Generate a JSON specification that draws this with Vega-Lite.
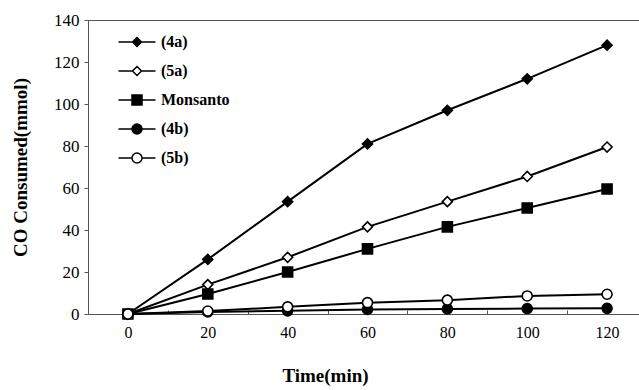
{
  "$schema": "https://vega.github.io/schema/vega-lite/v6.json",
  "width": 559,
  "height": 294,
  "autosize": {"type": "none"},
  "padding": {"left": 88, "top": 20, "right": 0, "bottom": 76},
  "background": "white",
  "config": {
    "view": {"stroke": "#555", "strokeWidth": 1},
    "font": "Liberation Serif"
  },
  "data": {
    "values": [
      {"series": "(4a)", "time": 0, "co": 0},
      {"series": "(4a)", "time": 20, "co": 26},
      {"series": "(4a)", "time": 40, "co": 53.5},
      {"series": "(4a)", "time": 60, "co": 81},
      {"series": "(4a)", "time": 80, "co": 97},
      {"series": "(4a)", "time": 100, "co": 112},
      {"series": "(4a)", "time": 120, "co": 128},
      {"series": "(5a)", "time": 0, "co": 0},
      {"series": "(5a)", "time": 20, "co": 14},
      {"series": "(5a)", "time": 40, "co": 27},
      {"series": "(5a)", "time": 60, "co": 41.5},
      {"series": "(5a)", "time": 80, "co": 53.5},
      {"series": "(5a)", "time": 100, "co": 65.5},
      {"series": "(5a)", "time": 120, "co": 79.5},
      {"series": "Monsanto", "time": 0, "co": 0},
      {"series": "Monsanto", "time": 20, "co": 9.5},
      {"series": "Monsanto", "time": 40, "co": 20},
      {"series": "Monsanto", "time": 60, "co": 31},
      {"series": "Monsanto", "time": 80, "co": 41.5},
      {"series": "Monsanto", "time": 100, "co": 50.5},
      {"series": "Monsanto", "time": 120, "co": 59.5},
      {"series": "(4b)", "time": 0, "co": 0},
      {"series": "(4b)", "time": 20, "co": 1},
      {"series": "(4b)", "time": 40, "co": 1.5},
      {"series": "(4b)", "time": 60, "co": 2.2},
      {"series": "(4b)", "time": 80, "co": 2.4},
      {"series": "(4b)", "time": 100, "co": 2.6},
      {"series": "(4b)", "time": 120, "co": 2.7},
      {"series": "(5b)", "time": 0, "co": 0},
      {"series": "(5b)", "time": 20, "co": 1.4},
      {"series": "(5b)", "time": 40, "co": 3.4},
      {"series": "(5b)", "time": 60, "co": 5.4},
      {"series": "(5b)", "time": 80, "co": 6.6},
      {"series": "(5b)", "time": 100, "co": 8.6},
      {"series": "(5b)", "time": 120, "co": 9.4}
    ]
  },
  "encoding": {
    "x": {
      "field": "time",
      "type": "ordinal",
      "scale": {"type": "band", "paddingInner": 0, "paddingOuter": 0},
      "axis": {
        "title": "Time(min)",
        "labelAngle": 0,
        "tickBand": "extent",
        "tickSize": -4,
        "tickColor": "#555",
        "domainColor": "#555",
        "labelFont": "Liberation Serif",
        "labelFontSize": 16,
        "labelColor": "black",
        "labelPadding": 14,
        "titleFont": "Liberation Serif",
        "titleFontSize": 19,
        "titleFontWeight": "bold",
        "titleColor": "black",
        "titleX": 237,
        "titleY": 61,
        "titleBaseline": "middle",
        "grid": false
      }
    },
    "y": {
      "field": "co",
      "type": "quantitative",
      "scale": {"domain": [0, 140], "nice": false},
      "axis": {
        "title": "CO Consumed(mmol)",
        "values": [0, 20, 40, 60, 80, 100, 120, 140],
        "tickSize": 4,
        "tickColor": "#555",
        "domainColor": "#555",
        "labelFont": "Liberation Serif",
        "labelFontSize": 17,
        "labelColor": "black",
        "labelPadding": 5,
        "titleFont": "Liberation Serif",
        "titleFontSize": 19,
        "titleFontWeight": "bold",
        "titleColor": "black",
        "titleX": -68,
        "titleY": 147,
        "titleBaseline": "middle",
        "grid": false
      }
    }
  },
  "layer": [
    {
      "mark": {"type": "line", "color": "black", "strokeWidth": 2},
      "encoding": {
        "detail": {"field": "series", "type": "nominal"}
      }
    },
    {
      "mark": {"type": "point", "filled": true, "opacity": 1, "stroke": "black", "strokeWidth": 1.6, "size": 100},
      "encoding": {
        "shape": {
          "field": "series",
          "type": "nominal",
          "scale": {
            "domain": ["(4a)", "(5a)", "Monsanto", "(4b)", "(5b)"],
            "range": ["diamond", "diamond", "square", "circle", "circle"]
          },
          "legend": null
        },
        "fill": {
          "field": "series",
          "type": "nominal",
          "scale": {
            "domain": ["(4a)", "(5a)", "Monsanto", "(4b)", "(5b)"],
            "range": ["black", "white", "black", "black", "white"]
          },
          "legend": null
        }
      }
    },
    {
      "transform": [{"filter": "false"}],
      "mark": {"type": "point", "filled": true, "opacity": 1, "stroke": "black", "strokeWidth": 1.8, "size": 100},
      "encoding": {
        "shape": {
          "field": "series",
          "type": "nominal",
          "scale": {
            "domain": ["(4a)", "(5a)", "Monsanto", "(4b)", "(5b)"],
            "range": [
              "M-3.7,0H-0.9M0.9,0H3.7M0,-0.9L0.9,0L0,0.9L-0.9,0Z",
              "M-3.7,0H-0.9M0.9,0H3.7M0,-0.9L0.9,0L0,0.9L-0.9,0Z",
              "M-3.7,0H-1M1,0H3.7M-1,-1H1V1H-1Z",
              "M-3.7,0H-1M1,0H3.7M1,0A1,1,0,1,1,-1,0A1,1,0,1,1,1,0Z",
              "M-3.7,0H-1M1,0H3.7M1,0A1,1,0,1,1,-1,0A1,1,0,1,1,1,0Z"
            ]
          },
          "legend": {
            "orient": "none",
            "legendX": 41,
            "legendY": 14,
            "title": null,
            "padding": 0,
            "labelFont": "Liberation Serif",
            "labelFontSize": 16,
            "labelFontWeight": "bold",
            "labelColor": "black",
            "symbolSize": 100,
            "labelOffset": 16,
            "rowPadding": 13,
            "encode": {
              "symbols": {
                "stroke": {"value": "black"},
                "strokeWidth": {"value": 1.8},
                "opacity": {"value": 1}
              }
            }
          }
        },
        "fill": {
          "field": "series",
          "type": "nominal",
          "scale": {
            "domain": ["(4a)", "(5a)", "Monsanto", "(4b)", "(5b)"],
            "range": ["black", "white", "black", "black", "white"]
          },
          "legend": null
        }
      }
    }
  ],
  "resolve": {"scale": {"shape": "independent", "fill": "independent"}}
}
